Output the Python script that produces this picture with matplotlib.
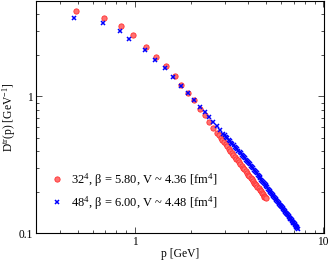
import matplotlib
matplotlib.use("Agg")
import matplotlib.pyplot as plt
from matplotlib.ticker import LogLocator, NullFormatter, FixedLocator, FixedFormatter

plt.rcParams['font.family'] = ['Liberation Serif', 'DejaVu Serif']
plt.rcParams['mathtext.fontset'] = 'custom'
plt.rcParams['mathtext.rm'] = 'Liberation Serif'
plt.rcParams['mathtext.it'] = 'Liberation Serif:italic'

p_red = [0.49, 0.69, 0.85, 0.98, 1.15, 1.30, 1.46, 1.63, 1.77, 1.92, 2.07, 2.22,
         2.35, 2.49, 2.62, 2.74, 2.80, 2.86, 2.92, 2.98, 3.04, 3.10, 3.16, 3.22,
         3.28, 3.34, 3.40, 3.46, 3.52, 3.58, 3.64, 3.70, 3.76, 3.82, 3.88, 3.94,
         4.00, 4.06, 4.12, 4.18, 4.24, 4.30, 4.36, 4.42, 4.48, 4.54, 4.60, 4.66,
         4.72, 4.78, 4.83, 4.88, 4.93, 4.97]
d_red = [4.25, 3.78, 3.27, 2.82, 2.32, 1.94, 1.66, 1.40, 1.22, 1.06, 0.935, 0.815,
         0.730, 0.653, 0.591, 0.541, 0.520, 0.500, 0.481, 0.463, 0.446, 0.430, 0.415, 0.401,
         0.388, 0.375, 0.363, 0.351, 0.340, 0.329, 0.319, 0.310, 0.301, 0.292, 0.284, 0.276,
         0.268, 0.261, 0.254, 0.247, 0.240, 0.234, 0.228, 0.223, 0.217, 0.212, 0.207, 0.202,
         0.197, 0.192, 0.188, 0.185, 0.182, 0.179]

p_blue = [0.478, 0.676, 0.832, 0.937, 1.134, 1.289, 1.45, 1.60, 1.76, 1.91, 2.06, 2.21,
          2.35, 2.48, 2.60, 2.72, 2.84, 2.95, 3.00, 3.05, 3.10, 3.15, 3.20, 3.25,
          3.30, 3.35, 3.40, 3.45, 3.50, 3.55, 3.60, 3.65, 3.70, 3.75, 3.80, 3.85,
          3.90, 3.95, 4.00, 4.05, 4.10, 4.15, 4.20, 4.25, 4.30, 4.35, 4.40, 4.45,
          4.50, 4.55, 4.60, 4.65, 4.70, 4.75, 4.80, 4.85, 4.90, 4.95, 5.00, 5.05,
          5.10, 5.15, 5.20, 5.25, 5.30, 5.35, 5.40, 5.45, 5.50, 5.55, 5.60, 5.65,
          5.70, 5.75, 5.80, 5.85, 5.90, 5.95, 6.00, 6.05, 6.10, 6.15, 6.20, 6.25,
          6.30, 6.35, 6.40, 6.45, 6.50, 6.55, 6.60, 6.65, 6.70, 6.75, 6.80, 6.85,
          6.90, 6.95, 7.00, 7.05, 7.10, 7.15, 7.20, 7.25, 7.30, 7.35]
d_blue = [3.77, 3.43, 3.02, 2.62, 2.20, 1.86, 1.62, 1.38, 1.20, 1.06, 0.94, 0.841,
          0.764, 0.702, 0.652, 0.607, 0.567, 0.534, 0.520, 0.507, 0.494, 0.482, 0.470, 0.459,
          0.448, 0.438, 0.428, 0.418, 0.409, 0.400, 0.391, 0.383, 0.375, 0.367, 0.359, 0.352,
          0.345, 0.339, 0.333, 0.328, 0.319, 0.311, 0.304, 0.297, 0.290, 0.284, 0.278, 0.273,
          0.267, 0.262, 0.256, 0.251, 0.246, 0.2415, 0.237, 0.2323, 0.228, 0.2237, 0.2196, 0.2155,
          0.2116, 0.2078, 0.2042, 0.2006, 0.1971, 0.1937, 0.1904, 0.1871, 0.1840, 0.1809, 0.1779, 0.1749,
          0.1721, 0.1693, 0.1666, 0.1640, 0.1614, 0.1589, 0.1565, 0.1541, 0.1518, 0.1495, 0.1472, 0.1450,
          0.1429, 0.1408, 0.1388, 0.1368, 0.1348, 0.1329, 0.1310, 0.1292, 0.1274, 0.1257, 0.1240, 0.1223,
          0.1206, 0.1190, 0.1174, 0.1159, 0.1144, 0.1129, 0.1114, 0.1100, 0.1085, 0.107]

label_red = r"32$^4$, β = 5.80, V ~ 4.36 [fm$^4$]"
label_blue = r"48$^4$, β = 6.00, V ~ 4.48 [fm$^4$]"

fig = plt.figure(figsize=(3.32, 2.60), dpi=100)
ax = fig.add_axes([36/332, 27/260, 288/332, 232/260])

ax.plot(p_red, d_red, ls='none', marker='o', ms=3.8, mfc='#ff7070', mec='#ff3030',
        mew=0.6, label=label_red, zorder=2)
ax.plot(p_blue, d_blue, ls='none', marker='x', ms=3.3, mec='#0000ff', mew=1.1,
        label=label_blue, zorder=3)

ax.set_xscale('log')
ax.set_yscale('log')
ax.set_xlim(0.3, 10.1)
ax.set_ylim(0.1, 5.0)

fs = 8.3
ax.xaxis.set_major_locator(FixedLocator([1, 10]))
ax.xaxis.set_major_formatter(FixedFormatter(['1', '10']))
ax.yaxis.set_major_locator(FixedLocator([0.1, 1]))
ax.yaxis.set_major_formatter(FixedFormatter(['0.1', '1']))
ax.xaxis.set_minor_locator(LogLocator(base=10, subs=range(2, 10)))
ax.yaxis.set_minor_locator(LogLocator(base=10, subs=range(2, 10)))
ax.xaxis.set_minor_formatter(NullFormatter())
ax.yaxis.set_minor_formatter(NullFormatter())
ax.tick_params(which='both', direction='in', top=True, right=True, labelsize=fs,
               width=0.6, color='#333333')
ax.tick_params(which='major', length=4.5, pad=2.5)
ax.tick_params(which='minor', length=2.5)
for s in ax.spines.values():
    s.set_linewidth(0.8)

ax.set_xlabel('p [GeV]', fontsize=fs, labelpad=0)
ax.set_ylabel(r'D$^{\mathrm{tr}}$(p) [GeV$^{-1}$]', fontsize=fs, labelpad=0)

leg = ax.legend(loc='lower left', bbox_to_anchor=(0.035, 0.07), frameon=False,
                fontsize=9, handlelength=1.0, handletextpad=0.6, labelspacing=0.45,
                borderaxespad=0)

fig.savefig('out.png', dpi=100)
